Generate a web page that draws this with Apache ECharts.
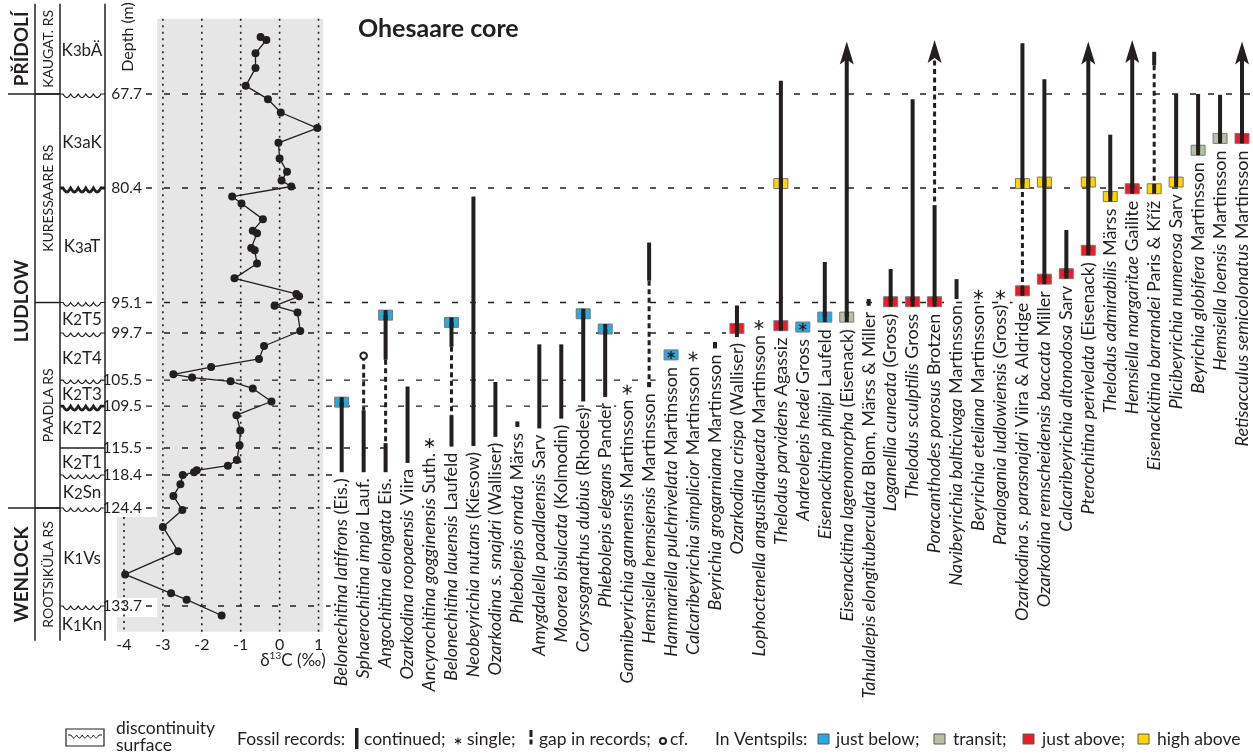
<!DOCTYPE html>
<html><head><meta charset="utf-8">
<script src="https://cdn.jsdelivr.net/npm/echarts@6/dist/echarts.min.js"></script>
<style>html,body{margin:0;padding:0;background:#fff}#c{width:1253px;height:755px}</style>
</head><body><div id="c"></div>
<script>
// ================= DATA =================
// depth boundaries of the log (m) and their tick labels
const depthTicks = [67.7, 80.4, 95.1, 99.7, 105.5, 109.5, 115.5, 118.4, 124.4, 133.7];
const depthTickLabels = ['67.7','80.4','95.1','99.7','105.5','109.5','115.5','118.4','124.4','133.7'];
const boundaryKinds = ['wavy','bold','wavy','wavy','wavy','bold','plain','wavy','wavy','wavy'];
// stratigraphy [name, top depth, bottom depth]
const seriesUnits = [['PŘÍDOLÍ',55.5,67.7],['LUDLOW',67.7,124.4],['WENLOCK',124.4,137.0]];
const stageUnits = [['KAUGAT. RS',55.5,67.7],['KURESSAARE RS',67.7,95.1],['PAADLA RS',95.1,124.4],['ROOTSIKÜLA RS',124.4,137.0]];
const zoneUnits = [['K','3','bÄ',55.5,67.7],['K','3','aK',67.7,80.4],['K','3','aT',80.4,95.1],['K','2','T5',95.1,99.7],['K','2','T4',99.7,105.5],['K','2','T3',105.5,109.5],['K','2','T2',109.5,115.5],['K','2','T1',115.5,118.4],['K','2','Sn',118.4,124.4],['K','1','Vs',124.4,133.7],['K','1','Kn',133.7,137.0]];
// delta13C curve
const d13cDepth = [60.0,60.4,62.2,64.2,66.6,68.4,70.2,72.3,74.3,76.4,78.2,79.4,80.2,81.5,82.4,84.4,85.9,86.2,88.1,88.4,90.1,92.0,94.0,94.3,95.6,96.6,99.4,101.3,102.9,103.9,104.8,105.2,105.7,106.8,108.8,110.8,113.0,115.1,116.8,117.4,117.9,118.1,118.4,120.1,122.2,124.6,126.2,128.5,130.7,132.5,133.1,134.6];
const d13cValue = [-0.49,-0.34,-0.62,-0.62,-0.87,-0.30,0.03,0.97,-0.03,0.00,0.19,0.05,0.30,-1.22,-0.98,-0.43,-0.69,-0.58,-0.73,-0.64,-0.58,-1.16,0.43,0.50,-0.13,0.46,0.53,-0.40,-0.53,-1.76,-2.73,-2.25,-1.26,-0.69,-0.21,-1.11,-1.01,-1.03,-1.10,-1.33,-2.13,-2.20,-2.49,-2.55,-2.73,-2.50,-3.00,-2.61,-3.97,-2.79,-2.39,-1.49];
const d13cTicks = [-4,-3,-2,-1,0,1];
// taxa
const taxaNames = ['Belonechitina latifrons','Sphaerochitina impia','Angochitina elongata','Ozarkodina roopaensis','Ancyrochitina gogginensis','Belonechitina lauensis','Neobeyrichia nutans','Ozarkodina s. snajdri','Phlebolepis ornata','Amygdalella paadlaensis','Moorea bisulcata','Coryssognathus dubius','Phlebolepis elegans','Gannibeyrichia gannensis','Hemsiella hemsiensis','Hammariella pulchrivelata','Calcaribeyrichia simplicior','Beyrichia grogarniana','Ozarkodina crispa','Lophoctenella angustilaqueata','Thelodus parvidens','Andreolepis hedei','Eisenackitina philipi','Eisenackitina lagenomorpha','Tahulalepis elongituberculata','Loganellia cuneata','Thelodus sculptilis','Poracanthodes porosus','Navibeyrichia balticivaga','Beyrichia eteliana','Paralogania ludlowiensis','Ozarkodina s. parasnajdri','Ozarkodina remscheidensis baccata','Calcaribeyrichia altonodosa','Pterochitina perivelata','Thelodus admirabilis','Hemsiella margaritae','Eisenackitina barrandei','Plicibeyrichia numerosa','Beyrichia globifera','Hemsiella loensis','Retisacculus semicolonatus'];
const taxaAuthors = ['(Eis.)','Lauf.','Eis.','Viira','Suth.','Laufeld','(Kiesow)','(Walliser)','Märss','Sarv','(Kolmodin)','(Rhodes)','Pander','Martinsson','Martinsson','Martinsson','Martinsson','Martinsson','(Walliser)','Martinsson','Agassiz','Gross','Laufeld','(Eisenack)','Blom, Märss & Miller','(Gross)','Gross','Brotzen','Martinsson','Martinsson','(Gross)','Viira & Aldridge','Miller','Sarv','(Eisenack)','Märss','Gailite','Paris & Kříž','Sarv','Martinsson','Martinsson','Martinsson'];
// [taxon, top depth, bottom depth]
const solidRecords = [[0,108.9,118.1],[1,110.1,118.1],[2,97.0,103.0],[2,114.8,118.1],[3,106.5,117.1],[5,98.1,101.4],[5,110.8,115.3],[6,81.5,115.2],[7,105.8,113.9],[8,111.7,112.5],[9,101.1,112.7],[10,101.1,111.3],[11,96.8,108.8],[12,99.1,108.1],[14,87.4,92.3],[14,105.8,106.6],[17,100.8,101.6],[18,95.55,100.2],[20,65.9,98.9],[22,89.9,97.3],[23,60.6,97.3],[24,94.65,95.6],[25,90.8,95.0],[26,68.4,95.0],[27,82.6,95.0],[28,92.1,94.65],[31,60.85,79.8],[32,65.7,92.1],[33,85.8,91.4],[34,60.6,88.4],[35,73.2,81.5],[36,60.4,80.5],[37,62.0,63.8],[38,67.7,79.6],[39,67.7,75.3],[40,67.8,73.7],[41,60.6,73.7]];
const gapRecords = [[1,102.5,110.1],[2,103.0,114.8],[5,101.4,110.8],[14,92.3,105.8],[27,60.4,82.6],[31,79.8,93.1],[37,63.8,79.7]];
const singleRecords = [[4,114.8],[13,107.0],[15,102.4],[16,102.6],[19,98.5],[21,98.8],[29,94.1],[30,94.1]];
const cfRecords = [[1,102.5]];
// [taxon, depth, occurrence in Ventspils]
const ventspilsRecords = [[0,108.9,'below'],[2,97.0,'below'],[5,98.1,'below'],[11,96.8,'below'],[12,99.1,'below'],[15,102.4,'below'],[18,99.0,'above'],[20,79.8,'high'],[20,98.6,'above'],[21,98.8,'below'],[22,97.3,'below'],[23,97.3,'transit'],[25,95.0,'above'],[26,95.0,'above'],[27,95.0,'above'],[31,79.8,'high'],[31,93.6,'above'],[32,79.6,'high'],[32,92.1,'above'],[33,91.4,'above'],[34,79.6,'high'],[34,88.4,'above'],[35,81.5,'high'],[36,80.5,'above'],[37,80.5,'high'],[38,79.6,'high'],[39,75.3,'transit'],[40,73.7,'transit'],[41,73.7,'above']];
const rangeContinuesUp = [23,27,34,36,41];

// ================= SCALE / LAYOUT =================
// the original log is not drawn to one uniform vertical scale: drawn depth of each boundary
const logDrawnDepth = [67.7,79.81,94.57,98.50,104.56,107.91,113.32,116.80,121.05,133.68];
function toDrawn(d){
  const n = depthTicks.length; let i = 0;
  if (d >= depthTicks[n-1]) i = n-2;
  else if (d > depthTicks[0]) { while (d > depthTicks[i+1]) i++; }
  const t = (d - depthTicks[i]) / (depthTicks[i+1] - depthTicks[i]);
  return logDrawnDepth[i] + t * (logDrawnDepth[i+1] - logDrawnDepth[i]);
}
const FONT = 'Lato, "Noto Sans", sans-serif';
const INK = '#231f20';
const LABEL_FS = 18, LEGEND_FS = 17.5;
const GRID_TOP = 18.73, GRID_H = 613.04;
const boundaryLineStart = -8.91;
const boundaryLineEnds = [41.5, 38.4, 30.55, 17.5, 14.3, 12.5, 2.5, -0.3, -0.5, -0.5];
const grayBands = [[-3.15,1.12,null,null],[-4.18,-3.15,125.25,132.94],[-4.18,-3.15,134.74,null]];
const lowerPanelTop = 125.25;
const SQ_COLORS = {below:'#27aae1', transit:'#b5c49f', above:'#ed1c24', high:'#ffd400'};

function asterisk(cx, cy, r, lw){
  return [90,30,150].map(a => {
    const rad = a*Math.PI/180, dx = Math.cos(rad)*r, dy = Math.sin(rad)*r;
    return {type:'line', shape:{x1:cx-dx,y1:cy-dy,x2:cx+dx,y2:cy+dy}, style:{stroke:INK,lineWidth:lw}};
  });
}
// points of a scalloped (discontinuity) line
function wavyPoints(x0, x1, y, lead, n, dip, tail){
  const pts = [[x0,y],[x0+lead,y]];
  const a = x0+lead, b = x1-tail, w = (b-a)/n;
  for (let k=0;k<n;k++){
    for (let s=1;s<=8;s++){
      const f = s/8; pts.push([a+w*k+w*f, y + dip*Math.sin(Math.PI*f)]);
    }
  }
  pts.push([x1,y]);
  return pts;
}
const legendText = (x, y, text) => ({type:'text', x, y, style:{text, fontSize:LEGEND_FS, fontFamily:FONT, fill:INK, verticalAlign:'middle'}});

const chart = echarts.init(document.getElementById('c'), null, {renderer:'canvas'});
const yCommon = {type:'value', min:58, max:137, inverse:true, show:false};

const option = {
  animation:false,
  backgroundColor:'#fff',
  grid:[
    {left:0, top:GRID_TOP, width:110, height:GRID_H},
    {left:116.2, top:GRID_TOP, width:207, height:GRID_H},
    {left:330.7, top:GRID_TOP, width:922.7, height:GRID_H}
  ],
  xAxis:[
    {gridIndex:0, type:'value', min:0, max:110, show:false},
    {gridIndex:1, type:'value', min:-4.2, max:1.12, axisLine:{show:false}, axisTick:{show:false}, splitLine:{show:false},
      axisLabel:{customValues:d13cTicks, fontSize:16, fontFamily:FONT, color:INK, margin:5}},
    {gridIndex:2, type:'value', min:-0.5, max:41.5, show:false}
  ],
  yAxis:[0,1,2].map(i => Object.assign({gridIndex:i}, yCommon)),
  series:[
    { // gray panel
      type:'custom', xAxisIndex:1, yAxisIndex:1, z:0, silent:true, data:[[0,80]],
      renderItem:(params, api) => {
        const cs = params.coordSys;
        return {type:'group', children: grayBands.map(b => {
          const x1 = api.coord([b[0],80])[0], x2 = api.coord([b[1],80])[0];
          const y1 = b[2]==null ? cs.y : api.coord([0,toDrawn(b[2])])[1];
          const y2 = b[3]==null ? cs.y+cs.height : api.coord([0,toDrawn(b[3])])[1];
          return {type:'rect', shape:{x:x1,y:y1,width:x2-x1,height:y2-y1}, style:{fill:'#e6e6e6'}};
        })};
      }
    },
    { // dotted d13C grid lines
      type:'custom', xAxisIndex:1, yAxisIndex:1, z:1, silent:true, data:d13cTicks.map(v=>[v,80]),
      renderItem:(params, api) => {
        const v = api.value(0), cs = params.coordSys;
        const x = api.coord([v,80])[0];
        const y1 = v === -4 ? api.coord([v,toDrawn(lowerPanelTop)])[1] : cs.y;
        return {type:'line', shape:{x1:x,y1:y1,x2:x,y2:cs.y+cs.height}, style:{stroke:INK,lineWidth:1.6,lineDash:[2,4.5]}};
      }
    },
    { // depth labels
      type:'custom', xAxisIndex:1, yAxisIndex:1, z:3, silent:true, data:depthTicks.map((d,i)=>[i,toDrawn(d)]),
      renderItem:(params, api) => {
        const i = api.value(0);
        const y = api.coord([0, toDrawn(depthTicks[i])])[1];
        return {type:'text', x:142, y:y, style:{text:depthTickLabels[i], fontSize:15.5, fontFamily:FONT, fill:INK, align:'right', verticalAlign:'middle'}};
      }
    },
    { // d13C curve
      type:'line', xAxisIndex:1, yAxisIndex:1, z:4, silent:true,
      data: d13cValue.map((v,i) => [v, toDrawn(d13cDepth[i])]),
      symbol:'circle', symbolSize:8, lineStyle:{color:INK,width:1.3}, itemStyle:{color:INK}
    },
    { // boundary dashed lines
      type:'custom', xAxisIndex:2, yAxisIndex:2, z:1, silent:true, data:depthTicks.map((d,i)=>[i,toDrawn(d)]),
      renderItem:(params, api) => {
        const i = api.value(0), yd = toDrawn(depthTicks[i]);
        const p1 = api.coord([boundaryLineStart, yd]), p2 = api.coord([boundaryLineEnds[i], yd]);
        return {type:'line', shape:{x1:p1[0],y1:p1[1],x2:p2[0],y2:p2[1]}, style:{stroke:INK,lineWidth:1.3,lineDash:[6,12]}};
      }
    },
    { // stratigraphic column
      type:'custom', xAxisIndex:0, yAxisIndex:0, z:2, silent:true, data:[[0,80]],
      renderItem:(params, api) => {
        const Y = d => api.coord([0,toDrawn(d)])[1];
        const X = v => api.coord([v,80])[0];
        const ch = [];
        const yT = Y(seriesUnits[0][1]), yB = Y(seriesUnits[seriesUnits.length-1][2]);
        [35,60,105].forEach(v => ch.push({type:'line', shape:{x1:X(v),y1:yT,x2:X(v),y2:yB}, style:{stroke:INK,lineWidth:1.5}}));
        seriesUnits.slice(0,-1).forEach(u => ch.push({type:'line', shape:{x1:X(8),y1:Y(u[2]),x2:X(60),y2:Y(u[2])}, style:{stroke:INK,lineWidth:1.5}}));
        stageUnits.slice(0,-1).forEach(u => ch.push({type:'line', shape:{x1:X(35),y1:Y(u[2]),x2:X(60),y2:Y(u[2])}, style:{stroke:INK,lineWidth:1.5}}));
        depthTicks.forEach((d,i) => {
          const y = Y(d), k = boundaryKinds[i];
          if (k === 'plain') ch.push({type:'line', shape:{x1:X(60),y1:y,x2:X(105),y2:y}, style:{stroke:INK,lineWidth:1.3}});
          else ch.push({type:'polyline', shape:{points:wavyPoints(X(60),X(105),y,3,5,k==='bold'?4:3.5,4)}, style:{stroke:INK,fill:'none',lineWidth:k==='bold'?2.8:1.2}});
        });
        seriesUnits.forEach(u => ch.push({type:'text', x:X(22), y:(Y(u[1])+Y(u[2]))/2, rotation:Math.PI/2, style:{text:u[0], fontSize:19, fontWeight:'bold', fontFamily:FONT, fill:INK, align:'center', verticalAlign:'middle'}}));
        stageUnits.forEach(u => ch.push({type:'text', x:X(48), y:(Y(u[1])+Y(u[2]))/2, rotation:Math.PI/2, style:{text:u[0], fontSize:14, fontFamily:FONT, fill:INK, align:'center', verticalAlign:'middle'}}));
        zoneUnits.forEach(u => ch.push({type:'text', x:X(82), y:(Y(u[3])+Y(u[4]))/2, style:{
          text:`{a|${u[0]}}{s|${u[1]}}{a|${u[2]}}`, align:'center', verticalAlign:'middle',
          rich:{a:{fontSize:17, fontFamily:FONT, fill:INK, lineHeight:20, verticalAlign:'bottom'}, s:{fontSize:15, fontFamily:FONT, fill:INK, lineHeight:20, verticalAlign:'bottom'}}}}));
        return {type:'group', children:ch};
      }
    },
    { // fossil ranges
      type:'custom', xAxisIndex:2, yAxisIndex:2, z:3, silent:true, data:taxaNames.map((n,i)=>[i,80]),
      renderItem:(params, api) => {
        const t = api.value(0);
        const x = api.coord([t,80])[0];
        const Y = d => api.coord([t,toDrawn(d)])[1];
        const ch = [];
        const sq = ventspilsRecords.filter(r=>r[0]===t);
        const solids = solidRecords.filter(r=>r[0]===t);
        const gaps = gapRecords.filter(r=>r[0]===t);
        const singles = singleRecords.filter(r=>r[0]===t);
        const cfs = cfRecords.filter(r=>r[0]===t);
        const up = rangeContinuesUp.includes(t);
        let low = -Infinity, top = Infinity;
        solids.concat(gaps).forEach(r => { top = Math.min(top, Y(r[1])); low = Math.max(low, Y(r[2])); });
        const trim = y1 => (up && Math.abs(y1-top) < 0.5) ? y1 + 12 : y1;
        sq.forEach(r => { const y = Y(r[1]);
          ch.push({type:'rect', shape:{x:x-7,y:y-5,width:14,height:10}, style:{fill:SQ_COLORS[r[2]], stroke:'#77787b', lineWidth:1}});
          low = Math.max(low, y+6); });
        gaps.forEach(r => ch.push({type:'line', shape:{x1:x,y1:trim(Y(r[1])),x2:x,y2:Y(r[2])}, style:{stroke:INK,lineWidth:3,lineDash:[5,3.5]}}));
        solids.forEach(r => { const y1 = trim(Y(r[1])), y2 = Y(r[2]);
          ch.push({type:'rect', shape:{x:x-2,y:y1,width:4,height:Math.max(y2-y1,1.5)}, style:{fill:INK}}); });
        sq.forEach(r => { const isSingle = singles.some(s => Math.abs(s[1]-r[1]) < 0.3);
          if (!isSingle) { const y = Y(r[1]); ch.push({type:'rect', shape:{x:x-2,y:y-5,width:4,height:10}, style:{fill:INK}}); } });
        singles.forEach(s => { const y = Y(s[1]); const inSq = sq.some(r => Math.abs(s[1]-r[1]) < 0.3);
          asterisk(x, y, inSq ? 4 : 5, 1.3).forEach(e => ch.push(e));
          if (!inSq) low = Math.max(low, y+4); });
        cfs.forEach(c => { const y = Y(c[1]);
          ch.push({type:'circle', shape:{cx:x,cy:y,r:3.3}, style:{fill:'#fff',stroke:INK,lineWidth:2}}); low = Math.max(low, y+4); });
        if (up) ch.push({type:'polygon', shape:{points:[[x,top],[x+7,top+23],[x,top+18],[x-7,top+23]]}, style:{fill:INK}});
        ch.push({type:'text', x:x, y:low+6, rotation:Math.PI/2, style:{
          text:`{i|${taxaNames[t]}} ${taxaAuthors[t]}`, fontSize:LABEL_FS, fontFamily:FONT, fill:INK, align:'right', verticalAlign:'middle',
          rich:{i:{fontStyle:'italic', fontSize:LABEL_FS, fontFamily:FONT, fill:INK}}}});
        return {type:'group', children:ch};
      }
    }
  ],
  graphic:[
    {type:'text', x:358, y:29, style:{text:'Ohesaare core', fontSize:25, fontWeight:'bold', fontFamily:FONT, fill:INK, verticalAlign:'middle'}},
    {type:'text', x:128, y:37, rotation:Math.PI/2, style:{text:'Depth (m)', fontSize:16, fontFamily:FONT, fill:INK, align:'center', verticalAlign:'middle'}},
    {type:'text', x:293, y:661, style:{text:'{a|δ}{s|13}{a|C (‰)}', align:'center', verticalAlign:'middle',
      rich:{a:{fontSize:17,fontFamily:FONT,fill:INK,lineHeight:20}, s:{fontSize:10,fontFamily:FONT,fill:INK,lineHeight:20,verticalAlign:'top'}}}},
    // legend
    {type:'rect', shape:{x:66,y:729,width:38,height:17}, style:{fill:'none',stroke:INK,lineWidth:1.2}},
    {type:'polyline', shape:{points:wavyPoints(68,102,735,3,5,3,3)}, style:{fill:'none',stroke:INK,lineWidth:1}},
    legendText(116, 728, 'discontinuity'),
    legendText(116, 745, 'surface'),
    legendText(237, 739, 'Fossil records:'),
    {type:'rect', shape:{x:355,y:728,width:3.5,height:21}, style:{fill:INK}},
    legendText(364, 739, 'continued;'),
    ...asterisk(458, 741, 3.5, 1.1),
    legendText(467, 739, 'single;'),
    {type:'rect', shape:{x:529.5,y:730,width:3,height:7}, style:{fill:INK}},
    {type:'rect', shape:{x:529.5,y:739.5,width:3,height:5}, style:{fill:INK}},
    legendText(539, 739, 'gap in records;'),
    {type:'circle', shape:{cx:663,cy:741,r:3}, style:{fill:'#fff',stroke:INK,lineWidth:2}},
    legendText(670, 739, 'cf.'),
    legendText(715, 739, 'In Ventspils:'),
    {type:'rect', shape:{x:818,y:734,width:11,height:10}, style:{fill:SQ_COLORS.below,stroke:'#58595b',lineWidth:1}},
    legendText(836, 739, 'just below;'),
    {type:'rect', shape:{x:934,y:734,width:11,height:10}, style:{fill:SQ_COLORS.transit,stroke:'#58595b',lineWidth:1}},
    legendText(953, 739, 'transit;'),
    {type:'rect', shape:{x:1023,y:734,width:11,height:10}, style:{fill:SQ_COLORS.above,stroke:'#58595b',lineWidth:1}},
    legendText(1042, 739, 'just above;'),
    {type:'rect', shape:{x:1138,y:734,width:11,height:10}, style:{fill:SQ_COLORS.high,stroke:'#58595b',lineWidth:1}},
    legendText(1157, 739, 'high above')
  ]
};
chart.setOption(option);
</script>
</body></html>
